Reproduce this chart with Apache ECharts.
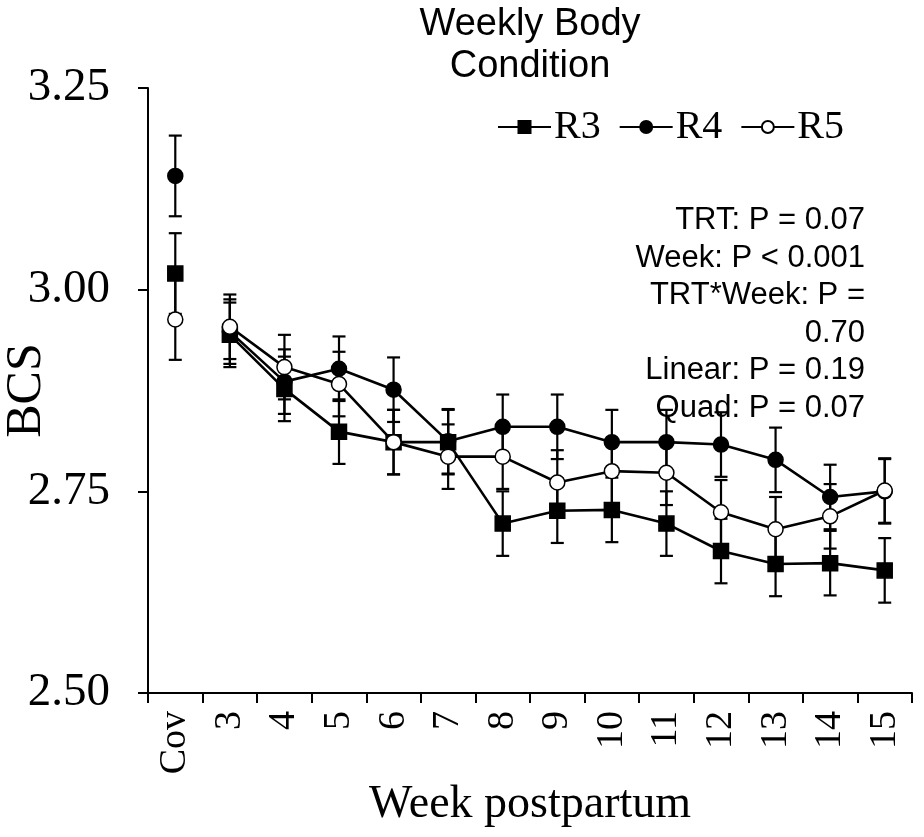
<!DOCTYPE html>
<html>
<head>
<meta charset="utf-8">
<script src="https://cdn.jsdelivr.net/npm/echarts@6/dist/echarts.min.js"></script>
<style>html,body{margin:0;padding:0;background:#fff}#c{width:924px;height:837px}</style>
</head>
<body>
<div id="c"></div>
<script>
var categories = ['Cov','3','4','5','6','7','8','9','10','11','12','13','14','15'];
var r3 = [3.020, 2.944, 2.877, 2.824, 2.811, 2.811, 2.710, 2.726, 2.727, 2.710, 2.676, 2.660, 2.661, 2.652];
var r4 = [3.141, 2.948, 2.886, 2.902, 2.876, 2.812, 2.830, 2.830, 2.811, 2.811, 2.808, 2.789, 2.743, 2.750];
var r5 = [2.963, 2.954, 2.904, 2.883, 2.811, 2.793, 2.793, 2.761, 2.775, 2.773, 2.724, 2.703, 2.719, 2.751];
var r3Err = [0.05, 0.04, 0.04, 0.04, 0.04, 0.04, 0.04, 0.04, 0.04, 0.04, 0.04, 0.04, 0.04, 0.04];
var r4Err = [0.05, 0.04, 0.04, 0.04, 0.04, 0.04, 0.04, 0.04, 0.04, 0.04, 0.04, 0.04, 0.04, 0.04];
var r5Err = [0.05, 0.04, 0.04, 0.04, 0.04, 0.04, 0.04, 0.04, 0.04, 0.04, 0.04, 0.04, 0.04, 0.04];
var yTicks = [2.50, 2.75, 3.00, 3.25];
var statsText = ['TRT: P = 0.07','Week: P < 0.001','TRT*Week: P =','0.70','Linear: P = 0.19','Quad: P = 0.07'];

var serif = "'Liberation Serif','Times New Roman',serif";
var sans = "'Liberation Sans',Arial,sans-serif";

function trendPart(arr){ return arr.map(function(v,i){ return i === 0 ? '-' : v; }); }
function covPart(arr){ return arr.map(function(v,i){ return i === 0 ? v : '-'; }); }
function errData(arr, err){ return arr.map(function(v,i){ return [i, v - err[i], v + err[i]]; }); }

function errSeries(arr, err, z){
  return {
    type: 'custom', z: z, silent: true,
    data: errData(arr, err),
    encode: {x: 0, y: [1, 2]},
    renderItem: function(params, api){
      var lo = api.coord([api.value(0), api.value(1)]);
      var hi = api.coord([api.value(0), api.value(2)]);
      var hw = 6.5;
      var st = {stroke: '#000', lineWidth: 2.2};
      return {type: 'group', children: [
        {type: 'line', shape: {x1: hi[0], y1: hi[1], x2: lo[0], y2: lo[1]}, style: st},
        {type: 'line', shape: {x1: hi[0]-hw, y1: hi[1], x2: hi[0]+hw, y2: hi[1]}, style: st},
        {type: 'line', shape: {x1: lo[0]-hw, y1: lo[1], x2: lo[0]+hw, y2: lo[1]}, style: st}
      ]};
    }
  };
}

var markers = {
  R3: {symbol: 'rect', size: 15, fill: '#000'},
  R4: {symbol: 'circle', size: 15, fill: '#000'},
  R5: {symbol: 'circle', size: 15, fill: '#fff'}
};
function lineSeries(name, arr, z){
  var m = markers[name];
  return {
    name: name, type: 'line', z: z, data: trendPart(arr),
    symbol: m.symbol, symbolSize: m.size, showAllSymbol: true,
    lineStyle: {color: '#000', width: 2.6},
    itemStyle: {color: m.fill, borderColor: '#000', borderWidth: 1.5, opacity: 1},
    emphasis: {disabled: true}
  };
}
function covSeries(name, arr, z){
  var m = markers[name];
  return {
    name: name + ' cov', type: 'scatter', z: z, data: covPart(arr),
    symbol: m.symbol, symbolSize: m.size,
    itemStyle: {color: m.fill, borderColor: '#000', borderWidth: 1.5, opacity: 1}
  };
}

var chart = echarts.init(document.getElementById('c'), null, {renderer: 'canvas'});
chart.setOption({
  animation: false,
  backgroundColor: '#fff',
  title: {
    text: 'Weekly Body\nCondition', left: 525, top: -1, textAlign: 'center',
    textStyle: {fontFamily: sans, fontSize: 38, fontWeight: 'normal', color: '#000', lineHeight: 42}
  },
  legend: {
    data: ['R3','R4','R5'], left: 492, top: 102,
    itemWidth: 53, itemHeight: 15, itemGap: 18,
    textStyle: {fontFamily: serif, fontSize: 40, color: '#000', padding: [0,0,0,-2]}
  },
  grid: {left: 148, right: 12, top: 88, bottom: 144, containLabel: false, outerBoundsMode: 'none'},
  xAxis: {
    type: 'category', data: categories, boundaryGap: true,
    name: 'Week postpartum', nameLocation: 'middle', nameGap: 89, nameMoveOverlap: false,
    nameTextStyle: {fontFamily: serif, fontSize: 46, color: '#000'},
    axisLine: {lineStyle: {color: '#000', width: 2}},
    axisTick: {show: true, length: 10, inside: false, lineStyle: {color: '#000', width: 2}},
    axisLabel: {rotate: 90, margin: 18, fontFamily: serif, fontSize: 38, color: '#000', interval: 0},
    splitLine: {show: false}
  },
  yAxis: {
    type: 'value', min: yTicks[0], max: yTicks[yTicks.length-1], interval: 0.25,
    name: 'BCS', nameLocation: 'middle', nameGap: 96, nameRotate: 90, nameMoveOverlap: false,
    nameTextStyle: {fontFamily: serif, fontSize: 50, color: '#000'},
    axisLine: {show: true, lineStyle: {color: '#000', width: 2}},
    axisTick: {show: true, length: 10, inside: false, lineStyle: {color: '#000', width: 2}},
    axisLabel: {margin: 38, fontFamily: serif, fontSize: 47, color: '#000',
      formatter: function(v){ return v.toFixed(2); }},
    splitLine: {show: false}
  },
  graphic: [{
    type: 'text', x: 865, y: 202, z: 100,
    style: {text: statsText.join('\n'), fontFamily: sans, fontSize: 31, lineHeight: 37.5,
      fill: '#000', align: 'right', verticalAlign: 'top'}
  }],
  series: [
    errSeries(r4, r4Err, 1),
    errSeries(r3, r3Err, 1),
    errSeries(r5, r5Err, 1),
    lineSeries('R4', r4, 3),
    lineSeries('R3', r3, 4),
    lineSeries('R5', r5, 5),
    covSeries('R4', r4, 3),
    covSeries('R3', r3, 4),
    covSeries('R5', r5, 5)
  ]
});
</script>
</body>
</html>
